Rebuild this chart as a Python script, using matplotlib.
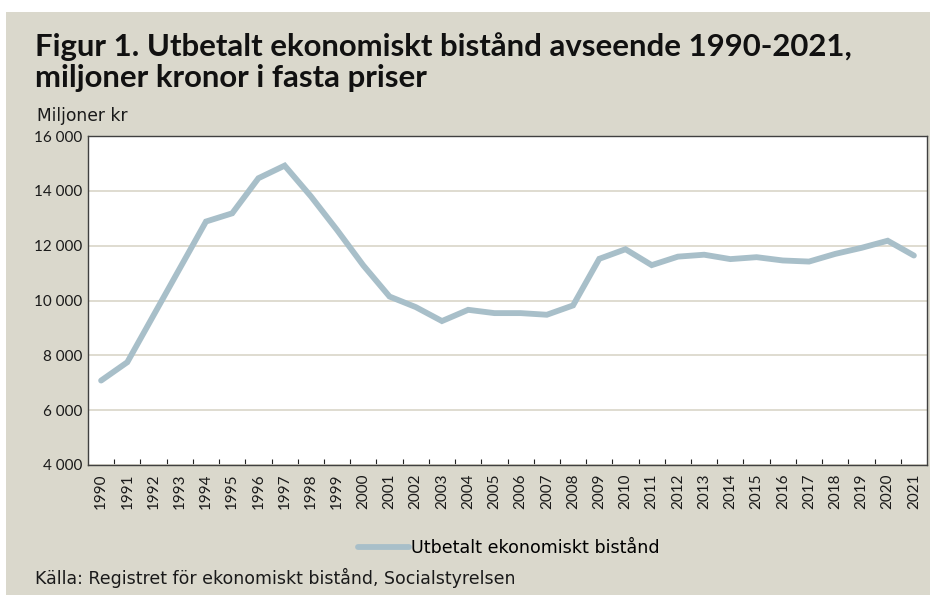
import matplotlib
matplotlib.use("Agg")
import matplotlib.pyplot as plt
from matplotlib.patches import Rectangle
import numpy as np

years = [str(y) for y in range(1990, 2022)]
values = [7080, 7750, 9460, 11170, 12880, 13180, 14460, 14920, 13800, 12570,
          11280, 10145, 9760, 9250, 9660, 9540, 9540, 9480, 9820, 11520,
          11870, 11290, 11600, 11670, 11510, 11580, 11460, 11420, 11700, 11920,
          12180, 11640]
y_ticks = [4000, 6000, 8000, 10000, 12000, 14000, 16000]
y_tick_labels = ["4 000", "6 000", "8 000", "10 000", "12 000", "14 000", "16 000"]
series_name = "Utbetalt ekonomiskt bistånd"

plt.rcParams['font.family'] = ['Lato', 'DejaVu Sans']

bg = '#dad8cc'
line_color = '#a8bfc9'
txt = '#1a1a1a'
wide = ['DejaVu Sans']

fig = plt.figure(figsize=(9.3, 5.95), dpi=100)
fig.patch.set_facecolor('white')
# beige panel (thin white strip at top and left like the reference)
fig.patches.append(Rectangle((6 / 930, 0), 1, 1 - 12 / 595, transform=fig.transFigure,
                             facecolor=bg, edgecolor='none', zorder=-10))

ax = fig.add_axes([88 / 930, 1 - 465 / 595, 839 / 930, 329 / 595])
ax.set_facecolor('white')

x = np.arange(len(years))
ax.plot(x, values, color=line_color, linewidth=4.2, solid_capstyle='round',
        solid_joinstyle='miter', label=series_name, zorder=3)

ax.set_xlim(-0.5, len(years) - 0.5)
ax.set_ylim(4000, 16000)
ax.set_yticks(y_ticks)
ax.set_yticklabels(y_tick_labels)
ax.yaxis.grid(True, color='#dcd9cd', linewidth=1.3)
ax.set_axisbelow(True)
ax.tick_params(axis='y', length=0, labelsize=11, pad=4, colors=txt)

ax.set_xticks(x)
ax.set_xticklabels(years, rotation=90)
ax.tick_params(axis='x', which='major', length=0, labelsize=11, pad=6, colors=txt)
# small tick marks between categories, pointing into the plot
ax.set_xticks(x[:-1] + 0.5, minor=True)
ax.tick_params(axis='x', which='minor', direction='in', length=4, width=0.8, color='#222222')

for s in ax.spines.values():
    s.set_color('#404040')
    s.set_linewidth(1.0)

fig.text(35 / 930, 1 - 56 / 595, "Figur 1. Utbetalt ekonomiskt bistånd avseende 1990-2021,",
         fontsize=22.4, fontweight='bold', ha='left', va='baseline', color='#111111')
fig.text(35 / 930, 1 - 87 / 595, "miljoner kronor i fasta priser",
         fontsize=22.4, fontweight='bold', ha='left', va='baseline', color='#111111')
fig.text(37 / 930, 1 - 121 / 595, "Miljoner kr", fontsize=12.3, ha='left', va='baseline',
         color=txt, family=wide)

fig.legend(loc='center', bbox_to_anchor=(509 / 930, 1 - 548 / 595), frameon=False,
           prop={'family': wide, 'size': 12.6}, handlelength=2.9, handletextpad=0.15)
fig.text(35 / 930, 1 - 584 / 595, "Källa: Registret för ekonomiskt bistånd, Socialstyrelsen",
         fontsize=12.5, ha='left', va='baseline', color=txt, family=wide)

fig.savefig('out.png', dpi=100, facecolor=fig.get_facecolor())
